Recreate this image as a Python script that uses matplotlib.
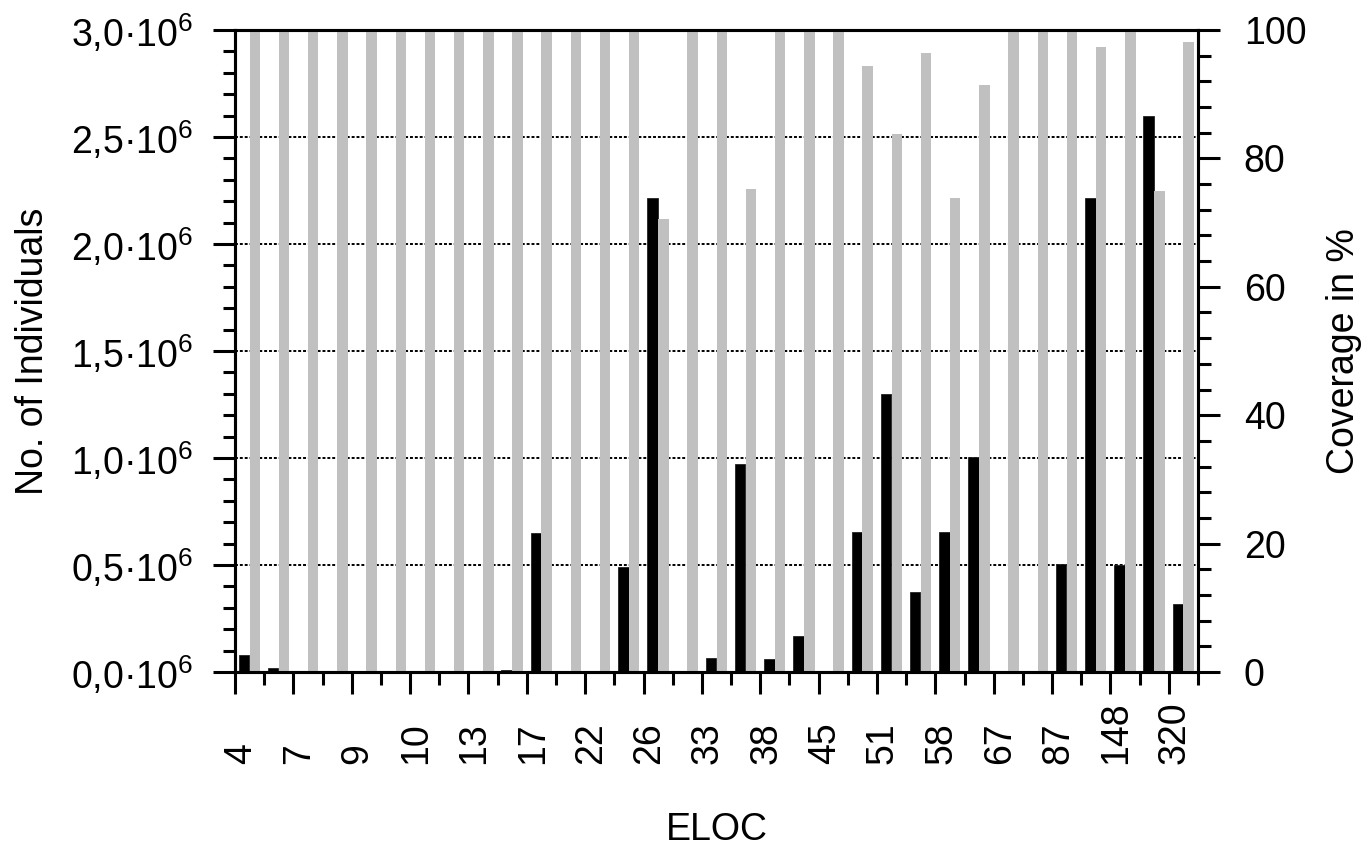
import matplotlib
matplotlib.use('Agg')
import matplotlib.pyplot as plt
import numpy as np
from matplotlib.ticker import MultipleLocator, FixedLocator, FuncFormatter
from matplotlib.transforms import ScaledTranslation

plt.rcParams['font.family'] = ['Liberation Sans', 'DejaVu Sans']
plt.rcParams['mathtext.fontset'] = 'custom'
plt.rcParams['mathtext.rm'] = 'Liberation Sans'
plt.rcParams['mathtext.it'] = 'Liberation Sans:italic'

# tick labels on the x axis (every other ELOC class is labelled)
eloc_labels = ['4', '7', '9', '10', '13', '17', '22', '26', '33', '38',
               '45', '51', '58', '67', '87', '148', '320']

# number of individuals per class (black bars, left axis)
individuals = [80000, 20000, 0, 0, 0, 0, 0, 0, 0, 10000,
               650000, 0, 0, 490000, 2215000, 0, 65000, 970000, 60000, 170000,
               0, 655000, 1300000, 375000, 655000, 1005000, 0, 0, 505000, 2213000,
               500000, 2600000, 320000]

# coverage in % per class (grey bars, right axis)
coverage = [100, 100, 100, 100, 100, 100, 100, 100, 100, 100,
            100, 100, 100, 100, 70.6, 100, 100, 75.2, 100, 100,
            100, 94.4, 83.8, 96.4, 73.9, 91.4, 100, 100, 100, 97.3,
            100, 74.9, 98.2]

n = len(individuals)
x = np.arange(n)

fig = plt.figure(figsize=(13.69, 8.58), dpi=100)
ax = fig.add_axes([235/1369, 1-672/858, (1198-235)/1369, (672-30)/858])
ax2 = ax.twinx()

ax.set_axisbelow(True)
ax.yaxis.grid(True, which='major', linestyle=(0, (1.5, 1)), color='black', lw=1.4)

ax.bar(x + 0.31, individuals, width=0.36, color='black', edgecolor='#222222', linewidth=0.6, zorder=2)
ax2.bar(x + 0.68, coverage, width=0.36, color='#c0c0c0', edgecolor='none', zorder=2)

ax.set_xlim(0, n)
ax.set_ylim(0, 3.0e6)
ax2.set_ylim(0, 100)

ax.xaxis.set_major_locator(FixedLocator(np.arange(0, n, 2)))
ax.xaxis.set_minor_locator(FixedLocator(np.arange(1, n + 1, 2)))

ax.yaxis.set_major_locator(MultipleLocator(0.5e6))
ax.yaxis.set_minor_locator(MultipleLocator(0.1e6))
ax.yaxis.set_major_formatter(FuncFormatter(
    lambda v, p: ('%.1f' % (v / 1e6)).replace('.', ',') + '·10$^{6}$'))

ax2.yaxis.set_major_locator(MultipleLocator(20))
ax2.yaxis.set_minor_locator(MultipleLocator(4))

for a in (ax, ax2):
    for s in a.spines.values():
        s.set_linewidth(2.2)
    a.tick_params(which='major', length=16, width=2.2, labelsize=27, pad=14, direction='out')
    a.tick_params(which='minor', length=9, width=2.2, direction='out')
ax2.tick_params(axis='y', which='major', pad=17)
ax.tick_params(axis='x', which='major', pad=50)

ax.set_xticklabels(eloc_labels, rotation=90, va='bottom', ha='center')
shift = ScaledTranslation(6/100, 0, fig.dpi_scale_trans)
for lab in ax.get_xticklabels():
    lab.set_transform(lab.get_transform() + shift)

ax.set_xlabel('ELOC', fontsize=27)
ax.xaxis.set_label_coords(0.5, -0.218)
ax.set_ylabel('No. of Individuals', fontsize=27)
ax.yaxis.set_label_coords(-0.191, 0.5)
ax2.set_ylabel('Coverage in %', fontsize=27, rotation=90)
ax2.yaxis.set_label_coords(1.133, 0.5)

plt.savefig('out.png', dpi=100)
plt.close()
